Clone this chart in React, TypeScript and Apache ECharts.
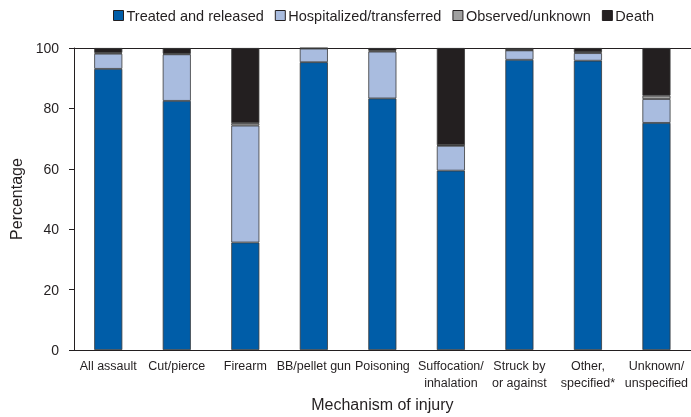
import React, { useEffect, useRef } from "react";
import * as echarts from "echarts";

const categories = [
  "All assault",
  "Cut/pierce",
  "Firearm",
  "BB/pellet gun",
  "Poisoning",
  "Suffocation/\ninhalation",
  "Struck by\nor against",
  "Other,\nspecified*",
  "Unknown/\nunspecified",
];
const treated = [93.1, 82.5, 35.6, 95.3, 83.3, 59.4, 96.1, 95.8, 75.2];
const hospitalized = [5.0, 15.4, 38.7, 4.5, 15.5, 8.2, 3.1, 2.5, 7.9];
const observed = [0.3, 0.2, 0.8, 0.1, 0.3, 0.2, 0.1, 0.3, 1.1];
const death = [1.6, 1.9, 24.9, 0.1, 0.9, 32.2, 0.7, 1.4, 15.8];
const yTicks = [0, 20, 40, 60, 80, 100];

const FONT = "Liberation Sans, Arial, sans-serif";
const TXT = "#231F20";

export default function App() {
  const ref = useRef<HTMLDivElement>(null);
  useEffect(() => {
    if (!ref.current) return;
    const chart = echarts.init(ref.current, null, { renderer: "svg" });
    const mk = (name: string, data: number[], color: string) => ({
      name,
      type: "bar",
      stack: "total",
      data,
      barWidth: "41%",
      itemStyle: { color, borderColor: "#3a3a3a", borderWidth: 0.8 },
    });
    chart.setOption({
      animation: false,
      textStyle: { fontFamily: FONT },
      legend: {
        top: 3,
        left: 108,
        icon: "rect",
        itemWidth: 10,
        itemHeight: 10,
        itemGap: 11,
        textStyle: { fontSize: 14.5, color: TXT, fontFamily: FONT, padding: [0, 0, 0, -2] },
        itemStyle: { borderColor: "#231F20", borderWidth: 1 },
        data: ["Treated and released", "Hospitalized/transferred", "Observed/unknown", "Death"],
      },
      grid: { left: 73, right: 0, top: 48, bottom: 66, containLabel: false },
      xAxis: [
        {
          type: "category",
          data: categories,
          name: "Mechanism of injury",
          nameLocation: "middle",
          nameGap: 46,
          nameTextStyle: { fontSize: 16, color: TXT, fontFamily: FONT },
          axisLine: { lineStyle: { color: "#231F20", width: 1 } },
          axisTick: { alignWithLabel: true, length: 3, lineStyle: { color: "#231F20" } },
          axisLabel: { fontSize: 12.5, color: TXT, fontFamily: FONT, margin: 7, interval: 0, lineHeight: 17 },
        },
        {
          type: "category",
          data: categories,
          position: "top",
          axisLine: { lineStyle: { color: "#231F20", width: 1 } },
          axisTick: { show: false },
          axisLabel: { show: false },
        },
      ],
      yAxis: {
        type: "value",
        min: yTicks[0],
        max: yTicks[yTicks.length - 1],
        interval: 20,
        name: "Percentage",
        nameLocation: "middle",
        nameGap: 50,
        nameTextStyle: { fontSize: 16, color: TXT, fontFamily: FONT },
        axisLine: { show: true, lineStyle: { color: "#231F20", width: 1 } },
        axisTick: { show: true, length: 5, lineStyle: { color: "#231F20" } },
        axisLabel: { fontSize: 14, color: TXT, fontFamily: FONT, margin: 15 },
        splitLine: { show: false },
      },
      series: [
        mk("Treated and released", treated, "#005DA8"),
        mk("Hospitalized/transferred", hospitalized, "#A9BCDF"),
        mk("Observed/unknown", observed, "#A0A0A0"),
        mk("Death", death, "#231F20"),
      ],
    });
    return () => chart.dispose();
  }, []);
  return (
    <div
      ref={ref}
      style={{ position: "fixed", left: 0, top: 0, width: 691, height: 417 }}
    />
  );
}
